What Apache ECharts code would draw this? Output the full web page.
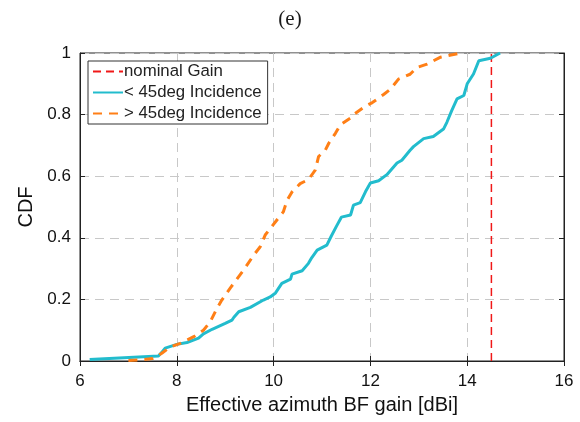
<!DOCTYPE html>
<html>
<head>
<meta charset="utf-8">
<script src="https://cdn.jsdelivr.net/npm/echarts@6/dist/echarts.min.js"></script>
<style>html,body{margin:0;padding:0;background:#fff}#c{width:580px;height:422px}</style>
</head>
<body>
<div id="c"></div>
<script>
// Data
const seriesNames = ['nominal Gain', '< 45deg Incidence', '> 45deg Incidence'];
const nominalGain = 14.5;
const lowGain = [6.2,7.62,7.7,7.76,8.0,8.21,8.45,8.55,8.73,9.0,9.14,9.18,9.28,9.52,9.79,9.93,10.04,10.17,10.35,10.38,10.59,10.72,10.79,10.9,11.1,11.19,11.3,11.4,11.59,11.65,11.79,11.9,12.0,12.17,12.34,12.55,12.65,12.82,12.89,13.1,13.3,13.51,13.58,13.68,13.79,13.93,14.0,14.13,14.24,14.48,14.68];
const lowCdf  = [0.005,0.016,0.03,0.042,0.054,0.06,0.074,0.088,0.103,0.122,0.133,0.142,0.16,0.174,0.198,0.208,0.221,0.252,0.266,0.282,0.293,0.317,0.336,0.36,0.376,0.405,0.438,0.467,0.474,0.506,0.514,0.55,0.578,0.585,0.605,0.643,0.652,0.684,0.696,0.722,0.729,0.753,0.775,0.813,0.851,0.862,0.9,0.932,0.975,0.983,1.0];
const highGain = [7.0,7.2,7.5,7.69,7.87,8.07,8.35,8.55,8.69,8.83,8.93,9.1,9.38,9.59,9.72,9.83,10.04,10.2,10.28,10.38,10.55,10.72,10.86,10.93,11.07,11.14,11.28,11.38,11.59,11.65,11.9,12.04,12.28,12.41,12.58,12.82,12.96,13.17,13.44,13.86];
const highCdf  = [0.002,0.003,0.008,0.025,0.046,0.057,0.079,0.1,0.127,0.171,0.198,0.236,0.295,0.344,0.37,0.41,0.452,0.484,0.522,0.549,0.576,0.589,0.62,0.664,0.685,0.707,0.74,0.767,0.789,0.8,0.828,0.839,0.866,0.882,0.915,0.931,0.953,0.964,0.986,1.0];
const xTicks = [6, 8, 10, 12, 14, 16];
const yTicks = [0, 0.2, 0.4, 0.6, 0.8, 1];

const zip = (a, b) => a.map((v, i) => [v, b[i]]);
const font = 'Liberation Sans, Arial, sans-serif';

const chart = echarts.init(document.getElementById('c'), null, {renderer: 'canvas'});
const tickStyle = {show: true, inside: true, length: 5, lineStyle: {color: '#222', width: 1}};
chart.setOption({
  animation: false,
  backgroundColor: '#fff',
  title: {
    text: '(e)', left: 'center', top: 4,
    textStyle: {fontFamily: 'Liberation Serif, DejaVu Serif, serif', fontSize: 21, fontWeight: 'normal', color: '#1a1a1a'}
  },
  grid: {left: 80, right: 16, top: 53, bottom: 61, show: true, borderColor: '#222', borderWidth: 1, backgroundColor: 'transparent'},
  legend: {
    orient: 'vertical', left: 88, top: 61,
    data: seriesNames,
    backgroundColor: '#fff', borderColor: '#333', borderWidth: 1,
    padding: [2, 6, 2, 4], itemGap: 4, itemWidth: 30, itemHeight: 16,
    itemStyle: {opacity: 0},
    textStyle: {fontFamily: font, fontSize: 16.8, color: '#222', padding: [0, 0, 0, -4]}
  },
  xAxis: [{
    type: 'value', min: xTicks[0], max: xTicks[xTicks.length - 1], interval: 2,
    name: 'Effective azimuth BF gain [dBi]', nameLocation: 'middle', nameGap: 34,
    nameTextStyle: {fontFamily: font, fontSize: 20, color: '#111'},
    axisLine: {show: true, lineStyle: {color: '#222'}},
    axisTick: tickStyle,
    axisLabel: {fontFamily: font, fontSize: 17, color: '#111', margin: 12},
    splitLine: {show: true, lineStyle: {color: '#c8c8c8', type: [9, 6], width: 1}}
  }, {
    type: 'value', position: 'top', min: xTicks[0], max: xTicks[xTicks.length - 1], interval: 2,
    axisLine: {show: true, lineStyle: {color: '#222'}}, axisTick: tickStyle,
    axisLabel: {show: false}, splitLine: {show: false}
  }],
  yAxis: [{
    type: 'value', min: yTicks[0], max: yTicks[yTicks.length - 1], interval: 0.2,
    name: 'CDF', nameLocation: 'middle', nameGap: 42,
    nameTextStyle: {fontFamily: font, fontSize: 20, color: '#111'},
    axisLine: {show: true, lineStyle: {color: '#222'}},
    axisTick: tickStyle,
    axisLabel: {fontFamily: font, fontSize: 17, color: '#111', margin: 9},
    splitLine: {show: true, lineStyle: {color: '#c8c8c8', type: [9, 6], width: 1}}
  }, {
    type: 'value', position: 'right', min: yTicks[0], max: yTicks[yTicks.length - 1], interval: 0.2,
    axisLine: {show: true, lineStyle: {color: '#222'}}, axisTick: tickStyle,
    axisLabel: {show: false}, splitLine: {show: false}
  }],
  series: [{
    name: seriesNames[0], type: 'line', symbol: 'none',
    data: [[nominalGain, yTicks[0]], [nominalGain, yTicks[yTicks.length - 1]]],
    lineStyle: {color: '#f01818', width: 1.5, type: [8, 5]}, itemStyle: {color: '#f01818'}, z: 3
  }, {
    name: seriesNames[1], type: 'line', symbol: 'none',
    data: zip(lowGain, lowCdf),
    lineStyle: {color: '#22bccd', width: 3}, itemStyle: {color: '#22bccd'}, z: 4
  }, {
    name: seriesNames[2], type: 'line', symbol: 'none',
    data: zip(highGain, highCdf),
    lineStyle: {color: '#ff7f16', width: 3, type: [9, 7]}, itemStyle: {color: '#ff7f16'}, z: 5
  }]
});
</script>
</body>
</html>
